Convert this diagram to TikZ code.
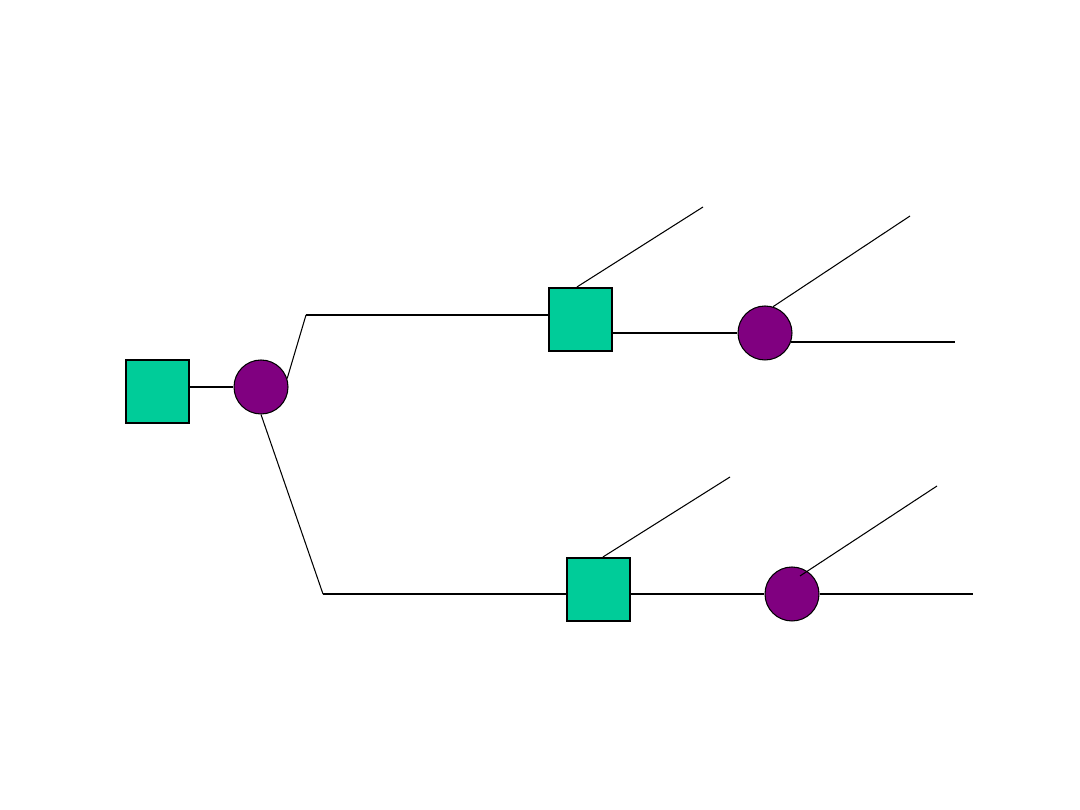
\documentclass[tikz,border=0pt]{standalone}
\usepackage{tikz}
\definecolor{TreeGreen}{HTML}{00CC99}
\definecolor{TreePurple}{HTML}{800080}

\begin{document}
\begin{tikzpicture}[x=0.02cm,y=-0.02cm]
    \tikzset{decisionbox/.style={draw=black,line width=1.2pt,fill=TreeGreen,
      minimum size=1.26cm,inner sep=0pt},
      chancenode/.style={circle,draw=black,line width=0.6pt,fill=TreePurple,
      minimum size=1.08cm,inner sep=0pt},
      thicklink/.style={line width=1.2pt},
      thinlink/.style={line width=0.6pt}}
    \useasboundingbox (0,0) rectangle (1080,810);
    % decision and chance nodes
    \node[decisionbox] (d0) at (157.5,391.5) {};
    \node[chancenode] (c0) at (261,387) {};
    \node[decisionbox] (dup) at (580.5,319.5) {};
    \node[chancenode] (cup) at (765,333) {};
    \node[decisionbox] (dlow) at (598.5,589.5) {};
    \node[chancenode] (clow) at (792,594) {};
    % bends and free ends
    \coordinate (kup) at (306,315);
    \coordinate (klow) at (323,594);
    \coordinate (tup) at (703,207);
    \coordinate (tupr) at (910,216);
    \coordinate (eup) at (955,342);
    \coordinate (tlow) at (730,477);
    \coordinate (tlowr) at (937,486);
    \coordinate (elow) at (973,594);
    % branches
    \draw[thicklink] (d0.east |- c0) -- (c0.west);
    \draw[thinlink] (c0.18) -- (kup);
    \draw[thicklink] (kup) -- (dup.west |- kup);
    \draw[thinlink] (c0.south) -- (klow);
    \draw[thicklink] (klow) -- (dlow.west |- klow);
    \draw[thinlink] ([shift={(-3.5,0)}]dup.north) -- (tup);
    \draw[thicklink] (dup.east |- cup) -- (cup.west);
    \draw[thinlink] (cup.73) -- (tupr);
    \draw[thicklink] (cup.-20 |- eup) -- (eup);
    \draw[thinlink] ([shift={(4.5,0)}]dlow.north) -- (tlow);
    \draw[thicklink] (dlow.east |- clow) -- (clow.west);
    \draw[thinlink] ([shift={(8,-18)}]clow.center) -- (tlowr);
    \draw[thicklink] (clow.east) -- (elow);
  \end{tikzpicture}
\end{document}
